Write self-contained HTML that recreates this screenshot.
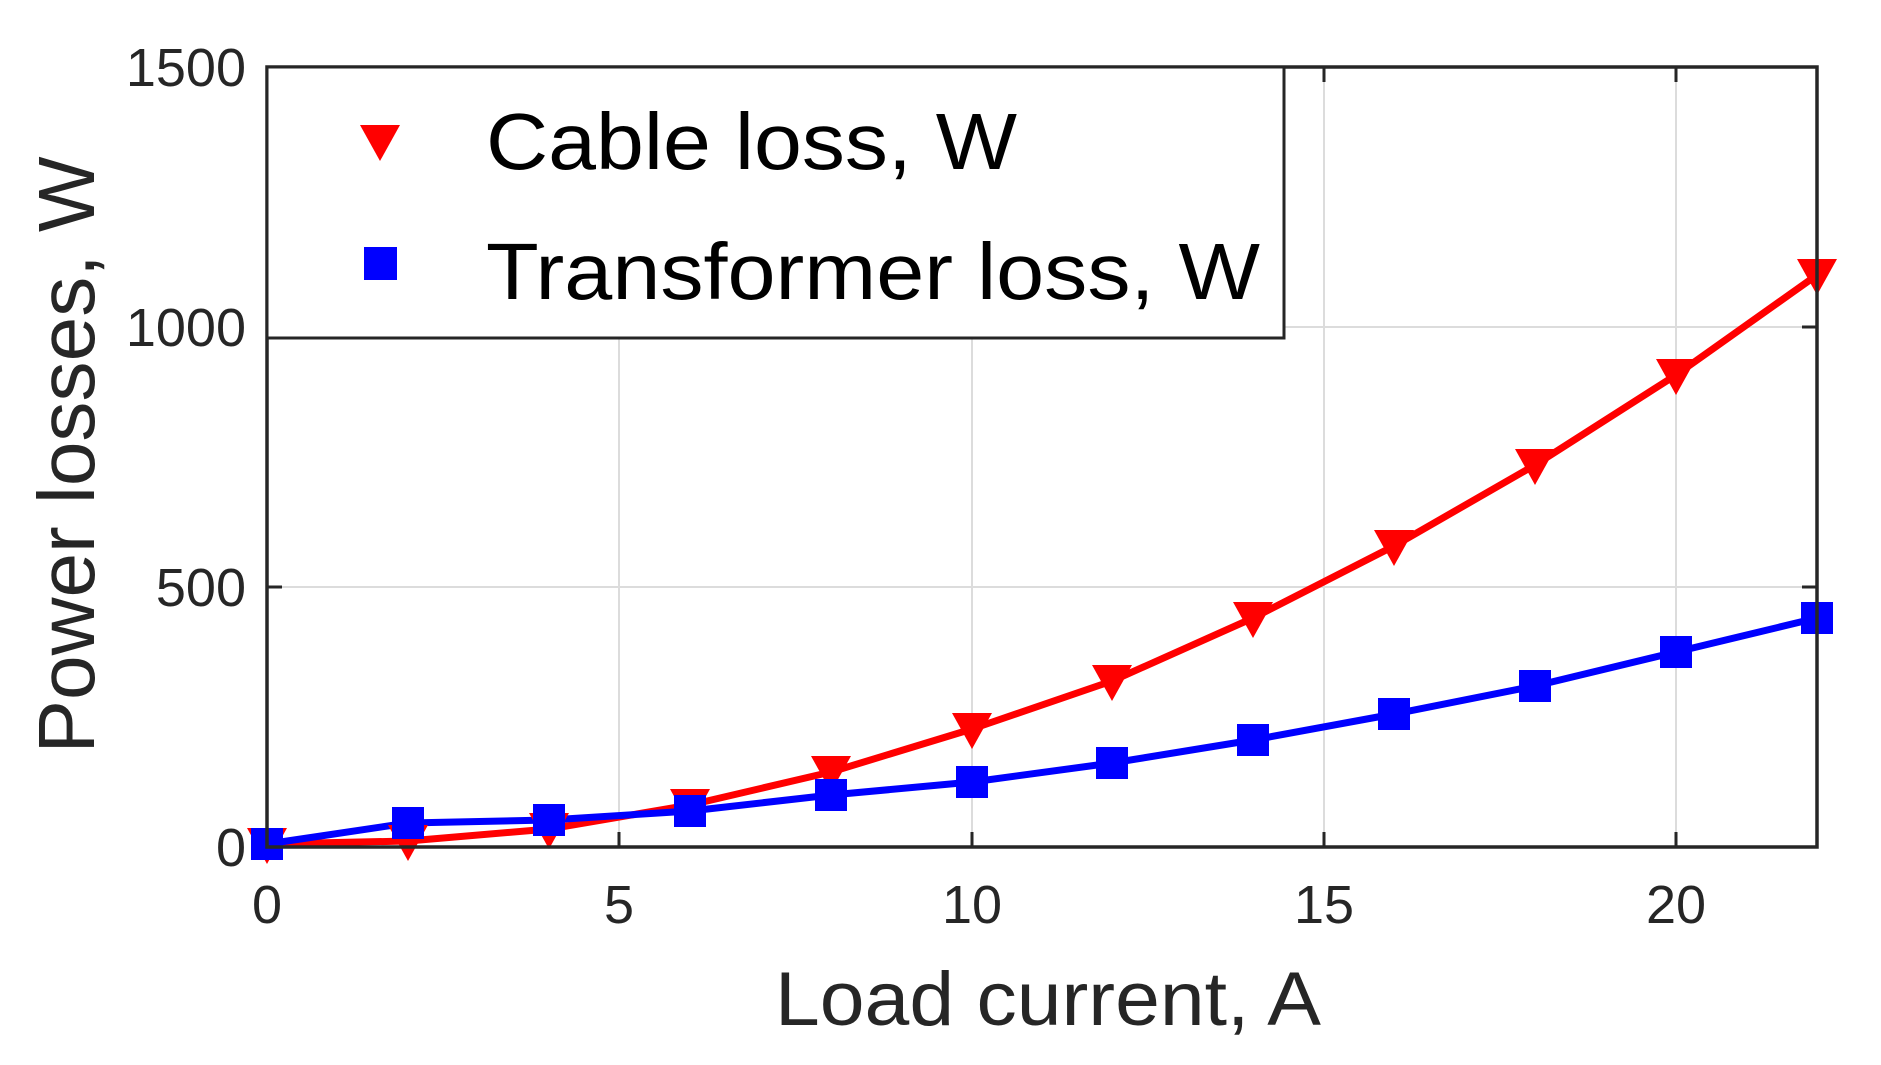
<!DOCTYPE html>
<html><head><meta charset="utf-8"><style>html,body{margin:0;padding:0;background:#fff}svg{display:block}</style></head>
<body>
<svg width="1881" height="1065" viewBox="0 0 1881 1065" xmlns="http://www.w3.org/2000/svg" font-family="Liberation Sans, Arial, sans-serif">
<rect width="1881" height="1065" fill="#fff"/>
<!-- grid -->
<g stroke="#dcdcdc" stroke-width="2">
<line x1="619" y1="67" x2="619" y2="847"/><line x1="972" y1="67" x2="972" y2="847"/><line x1="1324" y1="67" x2="1324" y2="847"/><line x1="1676" y1="67" x2="1676" y2="847"/>
<line x1="267" y1="587" x2="1817" y2="587"/><line x1="267" y1="327" x2="1817" y2="327"/>
</g>
<!-- ticks -->
<g stroke="#262626" stroke-width="3">
<line x1="619" y1="847" x2="619" y2="832"/><line x1="972" y1="847" x2="972" y2="832"/><line x1="1324" y1="847" x2="1324" y2="832"/><line x1="1676" y1="847" x2="1676" y2="832"/>
<line x1="619" y1="67" x2="619" y2="82"/><line x1="972" y1="67" x2="972" y2="82"/><line x1="1324" y1="67" x2="1324" y2="82"/><line x1="1676" y1="67" x2="1676" y2="82"/>
<line x1="267" y1="587" x2="282" y2="587"/><line x1="267" y1="327" x2="282" y2="327"/>
<line x1="1817" y1="587" x2="1802" y2="587"/><line x1="1817" y1="327" x2="1802" y2="327"/>
</g>
<!-- series -->
<polyline fill="none" stroke="#ff0000" stroke-width="7" stroke-linejoin="round" points="267,844 408,841 549,829 690,805 831,772 972,729 1112,681 1253,618 1394,546 1535,465 1676,375 1817,275"/>
<polyline fill="none" stroke="#0000ff" stroke-width="7" stroke-linejoin="round" points="267,844 408,823 549,820 690,811 831,795 972,782 1112,763 1253,740 1394,714 1535,686 1676,652 1817,618"/>
<g fill="#ff0000">
<polygon points="247,828 287,828 267,864"/><polygon points="388,825 428,825 408,861"/><polygon points="529,813 569,813 549,849"/><polygon points="670,789 710,789 690,825"/><polygon points="811,756 851,756 831,792"/><polygon points="952,713 992,713 972,749"/><polygon points="1092,665 1132,665 1112,701"/><polygon points="1233,602 1273,602 1253,638"/><polygon points="1374,530 1414,530 1394,566"/><polygon points="1515,449 1555,449 1535,485"/><polygon points="1656,359 1696,359 1676,395"/><polygon points="1797,259 1837,259 1817,295"/>
</g>
<g fill="#0000ff">
<rect x="251" y="828" width="32" height="32"/><rect x="392" y="807" width="32" height="32"/><rect x="533" y="804" width="32" height="32"/><rect x="674" y="795" width="32" height="32"/><rect x="815" y="779" width="32" height="32"/><rect x="956" y="766" width="32" height="32"/><rect x="1096" y="747" width="32" height="32"/><rect x="1237" y="724" width="32" height="32"/><rect x="1378" y="698" width="32" height="32"/><rect x="1519" y="670" width="32" height="32"/><rect x="1660" y="636" width="32" height="32"/><rect x="1801" y="602" width="32" height="32"/>
</g>
<!-- axes box -->
<rect x="267" y="67" width="1550" height="780" fill="none" stroke="#262626" stroke-width="3.5"/>
<!-- legend -->
<rect x="267" y="67" width="1017" height="271" fill="#fff" stroke="#262626" stroke-width="3"/>
<polygon points="360,125 400,125 380,161" fill="#ff0000"/>
<rect x="364" y="247" width="33" height="33" fill="#0000ff"/>
<text x="486" y="169" font-size="80" fill="#000" textLength="531" lengthAdjust="spacingAndGlyphs">Cable loss, W</text>
<text x="486" y="299" font-size="80" fill="#000" textLength="774" lengthAdjust="spacingAndGlyphs">Transformer loss, W</text>
<!-- tick labels -->
<g font-size="54" fill="#262626" text-anchor="end">
<text x="246" y="866">0</text><text x="246" y="606">500</text><text x="246" y="346">1000</text><text x="246" y="86">1500</text>
</g>
<g font-size="54" fill="#262626" text-anchor="middle">
<text x="267" y="923">0</text><text x="619" y="923">5</text><text x="972" y="923">10</text><text x="1324" y="923">15</text><text x="1676" y="923">20</text>
</g>
<text x="1048" y="1025" font-size="76" fill="#262626" text-anchor="middle" textLength="546" lengthAdjust="spacingAndGlyphs">Load current, A</text>
<text transform="translate(94,455) rotate(-90)" font-size="80" fill="#262626" text-anchor="middle" textLength="597" lengthAdjust="spacingAndGlyphs">Power losses, W</text>
</svg>
</body></html>
